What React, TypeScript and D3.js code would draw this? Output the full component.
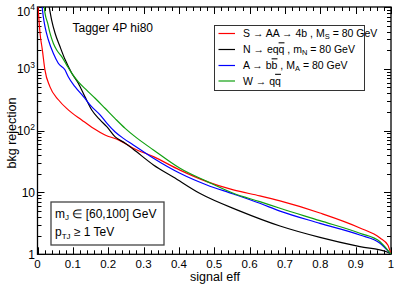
import * as d3 from "d3";
import { useRef, useEffect } from "react";

// signal efficiency vs background rejection
const redEff = [0.001, 0.0042, 0.0071, 0.0136, 0.021, 0.035, 0.059, 0.087, 0.125, 0.158, 0.191, 0.229, 0.271, 0.328, 0.403, 0.479, 0.554, 0.629, 0.686, 0.799, 0.912, 0.969, 0.991, 1.0];
const redRej = [11000, 6150, 3800, 2050, 960, 515, 316, 217, 149, 109, 85, 71, 52, 38, 23, 15, 11, 8.8, 7.3, 4.66, 2.67, 1.84, 1.41, 1.0];

const blackEff = [0.0325, 0.04, 0.0495, 0.0636, 0.078, 0.097, 0.115, 0.134, 0.153, 0.177, 0.196, 0.219, 0.248, 0.271, 0.328, 0.384, 0.46, 0.573, 0.686, 0.799, 0.912, 0.989, 1.0];
const blackRej = [10500, 6150, 3800, 2290, 1410, 850, 590, 355, 218, 149, 116, 80, 62.7, 50, 27.9, 17.8, 9.6, 5.0, 2.87, 1.88, 1.33, 1.09, 1.0];

const blueEff = [0.0127, 0.0164, 0.0212, 0.0306, 0.0447, 0.0588, 0.078, 0.087, 0.106, 0.13, 0.153, 0.177, 0.196, 0.219, 0.243, 0.271, 0.328, 0.403, 0.479, 0.554, 0.629, 0.686, 0.799, 0.912, 0.969, 1.0];
const blueRej = [10500, 7000, 4800, 2950, 1780, 1230, 955, 745, 515, 355, 245, 180, 132, 96, 75, 58.7, 35.7, 20.4, 13.2, 9.46, 6.68, 5.0, 3.17, 2.05, 1.51, 1.0];

const greenEff = [0.0184, 0.0212, 0.0289, 0.0354, 0.0447, 0.0543, 0.0685, 0.0826, 0.0967, 0.115, 0.139, 0.163, 0.191, 0.219, 0.248, 0.276, 0.328, 0.403, 0.479, 0.554, 0.629, 0.686, 0.799, 0.912, 0.969, 1.0];
const greenRej = [10500, 7940, 5450, 3770, 2600, 2020, 1575, 1150, 850, 620, 452, 334, 230, 158, 109, 80, 48.7, 24.6, 15.1, 9.7, 7.1, 5.55, 3.5, 2.19, 1.6, 1.0];

const xTicks = [0, 0.1, 0.2, 0.3, 0.4, 0.5, 0.6, 0.7, 0.8, 0.9, 1];
const xTickLabels = ["0", "0.1", "0.2", "0.3", "0.4", "0.5", "0.6", "0.7", "0.8", "0.9", "1"];
const yDecades = [1, 10, 100, 1000, 10000];

const FONT = "'Liberation Sans', Arial, Helvetica, sans-serif";

export default function App() {
  const ref = useRef<SVGSVGElement>(null);

  useEffect(() => {
    const W = 394, H = 284;
    const left = 37.5, right = 391, top = 7, bottom = 254.3;

    const svg = d3.select(ref.current);
    svg.selectAll("*").remove();
    svg.attr("width", W).attr("height", H).style("background", "white");

    const x = d3.scaleLinear().domain([0, 1]).range([left, right]);
    const y = d3.scaleLog().domain([1, 1e4]).range([bottom, top]);

    svg.append("defs").append("clipPath").attr("id", "plotclip")
      .append("rect").attr("x", left).attr("y", top)
      .attr("width", right - left).attr("height", bottom - top);

    // ticks, inward on all four sides
    const tk = svg.append("g").attr("stroke", "#000").attr("stroke-width", 1);
    d3.range(0, 1.0001, 0.02).forEach((v) => {
      const major = Math.abs(v * 10 - Math.round(v * 10)) < 1e-6;
      const len = major ? 7 : 4;
      const px = Math.round(x(v)) + 0.5;
      tk.append("line").attr("x1", px).attr("x2", px).attr("y1", bottom).attr("y2", bottom - len);
      tk.append("line").attr("x1", px).attr("x2", px).attr("y1", top).attr("y2", top + len);
    });
    yDecades.forEach((d, i) => {
      const mults = i < yDecades.length - 1 ? [1, 2, 3, 4, 5, 6, 7, 8, 9] : [1];
      mults.forEach((m) => {
        const len = m === 1 ? 7 : 4;
        const py = Math.round(y(d * m)) + 0.5;
        tk.append("line").attr("x1", left).attr("x2", left + len).attr("y1", py).attr("y2", py);
        tk.append("line").attr("x1", right).attr("x2", right - len).attr("y1", py).attr("y2", py);
      });
    });

    // frame
    svg.append("rect").attr("x", left).attr("y", top)
      .attr("width", right - left).attr("height", bottom - top)
      .attr("fill", "none").attr("stroke", "#000").attr("stroke-width", 1.3);

    // tick labels
    const lab = svg.append("g").attr("font-family", FONT).attr("font-size", 11.5).attr("fill", "#000");
    xTicks.forEach((v, i) => {
      lab.append("text").attr("x", x(v)).attr("y", 268)
        .attr("text-anchor", "middle").text(xTickLabels[i]);
    });
    yDecades.forEach((d) => {
      const k = Math.round(Math.log10(d));
      // top label is pushed down so its exponent stays inside the page
      const base = k === 4 ? 15.5 : y(d) + 4.5;
      const t = lab.append("text").attr("x", 35).attr("y", base).attr("text-anchor", "end");
      if (k >= 2) {
        t.append("tspan").attr("font-size", 12).text("10");
        t.append("tspan").attr("font-size", 8.5).attr("dy", -5.5).text(String(k));
      } else {
        t.attr("font-size", 12).text(k === 1 ? "10" : "1");
      }
    });

    // axis titles
    lab.append("text").attr("x", 215).attr("y", 281).attr("font-size", 12.5)
      .attr("text-anchor", "middle").text("signal eff");
    lab.append("text").attr("transform", "translate(16,133) rotate(-90)").attr("font-size", 12.5)
      .attr("text-anchor", "middle").text("bkg rejection");

    lab.append("text").attr("x", 72.5).attr("y", 31.5).attr("font-size", 12).text("Tagger 4P hi80");

    // curves
    const series = [
      { eff: redEff, rej: redRej, color: "#ff0000" },
      { eff: blackEff, rej: blackRej, color: "#000000" },
      { eff: blueEff, rej: blueRej, color: "#0000ff" },
      { eff: greenEff, rej: greenRej, color: "#10a010" },
    ];
    const ln = d3.line<[number, number]>()
      .x((d) => x(d[0]))
      .y((d) => y(d[1]))
      .curve(d3.curveMonotoneX);
    const cg = svg.append("g").attr("clip-path", "url(#plotclip)");
    series.forEach((s) => {
      const pts = s.eff.map((e, i) => [e, s.rej[i]] as [number, number]);
      cg.append("path").attr("d", ln(pts)).attr("fill", "none")
        .attr("stroke", s.color).attr("stroke-width", 1.2);
    });

    // legend
    const lg = svg.append("g").attr("font-family", FONT).attr("font-size", 10.5);
    lg.append("rect").attr("x", 214.5).attr("y", 25.5).attr("width", 150).attr("height", 65)
      .attr("fill", "white").attr("stroke", "#333").attr("stroke-width", 1);
    const rows = [33.5, 49.5, 65.5, 81];
    series.forEach((s, i) => {
      lg.append("line").attr("x1", 218.5).attr("x2", 235).attr("y1", rows[i]).attr("y2", rows[i])
        .attr("stroke", s.color).attr("stroke-width", 1.2);
    });
    const tx = 243;
    const t0 = lg.append("text").attr("x", tx).attr("y", rows[0] + 3.8);
    t0.append("tspan").text("S \u2192 AA \u2192 4b , M");
    t0.append("tspan").attr("font-size", 7.5).attr("dy", 2).text("S");
    t0.append("tspan").attr("dy", -2).text(" = 80 GeV");

    const t1 = lg.append("text").attr("x", tx).attr("y", rows[1] + 3.8);
    t1.append("tspan").text("N \u2192 eq");
    t1.append("tspan").style("text-decoration", "overline").text("q");
    t1.append("tspan").text(" , m");
    t1.append("tspan").attr("font-size", 7.5).attr("dy", 2).text("N");
    t1.append("tspan").attr("dy", -2).text(" = 80 GeV");

    const t2 = lg.append("text").attr("x", tx).attr("y", rows[2] + 3.8);
    t2.append("tspan").text("A \u2192 b");
    t2.append("tspan").style("text-decoration", "overline").text("b");
    t2.append("tspan").text(" , M");
    t2.append("tspan").attr("font-size", 7.5).attr("dy", 2).text("A");
    t2.append("tspan").attr("dy", -2).text(" = 80 GeV");

    const t3 = lg.append("text").attr("x", tx).attr("y", rows[3] + 3.8);
    t3.append("tspan").text("W \u2192 q");
    t3.append("tspan").style("text-decoration", "overline").text("q");

    // cut box
    const cb = svg.append("g").attr("font-family", FONT).attr("font-size", 12);
    cb.append("rect").attr("x", 51).attr("y", 202).attr("width", 113).attr("height", 43)
      .attr("fill", "white").attr("stroke", "#444").attr("stroke-width", 1.3);
    const c0 = cb.append("text").attr("x", 55).attr("y", 217.5);
    c0.append("tspan").text("m");
    c0.append("tspan").attr("font-size", 8).attr("dy", 2.5).text("J");
    c0.append("tspan").attr("dy", -2.5).text(" \u2208 [60,100] GeV");
    const c1 = cb.append("text").attr("x", 55).attr("y", 236);
    c1.append("tspan").text("p");
    c1.append("tspan").attr("font-size", 8).attr("dy", 2.5).text("TJ");
    c1.append("tspan").attr("dy", -2.5).text(" \u2265 1 TeV");
  }, []);

  return <svg ref={ref} style={{ position: "absolute", left: 0, top: 0, display: "block" }} />;
}
